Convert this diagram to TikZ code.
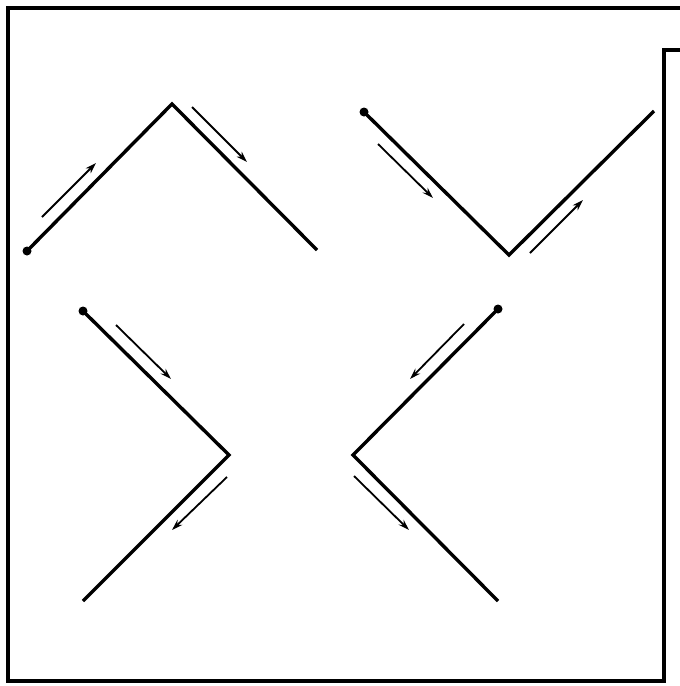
\documentclass[tikz,border=0pt]{standalone}
\usetikzlibrary{arrows.meta}
\begin{document}
\begin{tikzpicture}[x=1pt,y=-1pt,
  frame/.style={line width=3.2pt,line cap=rect},
  limb/.style={line width=3.4pt,line join=miter},
  flow/.style={line width=1.8pt,-{Stealth[length=11pt,width=7pt]}},
  enddot/.style={circle,fill=black,inner sep=0pt,minimum size=9pt}]
\useasboundingbox (0,0) rectangle (680,686);
% frame
\coordinate (f1) at (680,8);
\coordinate (f2) at (8,8);
\coordinate (f3) at (8,681);
\coordinate (f4) at (664,681);
\coordinate (f5) at (664,50);
\coordinate (f6) at (680,50);
\draw[frame] (f1) -- (f2) -- (f3) -- (f4) -- (f5) -- (f6);
% shape A (top left)
\node[enddot] (a1) at (27,251) {};
\coordinate (a2) at (172,104);
\coordinate (a3) at (317,250);
\draw[limb] (a1.center) -- (a2) -- (a3);
\coordinate (aa1) at (42,217); \coordinate (aa2) at (96,163);
\coordinate (ab1) at (192,107); \coordinate (ab2) at (247,162);
\draw[flow] (aa1) -- (aa2);
\draw[flow] (ab1) -- (ab2);
% shape B (top right)
\node[enddot] (b1) at (364,112) {};
\coordinate (b2) at (509,255);
\coordinate (b3) at (654,111);
\draw[limb] (b1.center) -- (b2) -- (b3);
\coordinate (ba1) at (378,144); \coordinate (ba2) at (433,198);
\coordinate (bb1) at (530,253); \coordinate (bb2) at (583,200);
\draw[flow] (ba1) -- (ba2);
\draw[flow] (bb1) -- (bb2);
% shape C (bottom left)
\node[enddot] (c1) at (83,311) {};
\coordinate (c2) at (229,455);
\coordinate (c3) at (83,601);
\draw[limb] (c1.center) -- (c2) -- (c3);
\coordinate (ca1) at (116,325); \coordinate (ca2) at (171,379);
\coordinate (cb1) at (227,477); \coordinate (cb2) at (172,530);
\draw[flow] (ca1) -- (ca2);
\draw[flow] (cb1) -- (cb2);
% shape D (bottom right)
\node[enddot] (d1) at (498,309) {};
\coordinate (d2) at (353,455);
\coordinate (d3) at (498,601);
\draw[limb] (d1.center) -- (d2) -- (d3);
\coordinate (da1) at (464,324); \coordinate (da2) at (410,379);
\coordinate (db1) at (354,476); \coordinate (db2) at (409,530);
\draw[flow] (da1) -- (da2);
\draw[flow] (db1) -- (db2);
\end{tikzpicture}
\end{document}
